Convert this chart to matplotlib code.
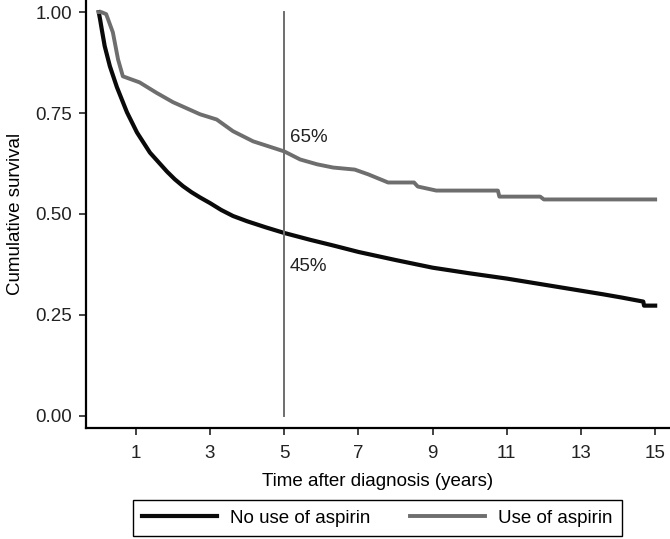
import numpy as np
import matplotlib
matplotlib.use('Agg')
import matplotlib.pyplot as plt

# Kaplan-Meier estimates (years, survival)
t_noasp = [0.0, 0.04, 0.08, 0.16, 0.3, 0.49, 0.76, 1.03, 1.38, 1.84, 2.05, 2.27, 2.5, 2.73,
           3.0, 3.3, 3.62, 4.0, 4.5, 5.0, 5.7, 6.32, 7.0, 8.0, 9.0, 10.0, 11.0,
           12.0, 13.0, 13.6, 14.1, 14.68, 14.7, 15.0]
s_noasp = [1.0, 0.98, 0.958, 0.916, 0.866, 0.814, 0.752, 0.702, 0.652, 0.605, 0.586, 0.569, 0.554, 0.541,
           0.527, 0.510, 0.495, 0.482, 0.467, 0.453, 0.436, 0.422, 0.406, 0.386, 0.367, 0.353, 0.340,
           0.325, 0.310, 0.301, 0.293, 0.283, 0.273, 0.273]

t_asp = [0.0, 0.07, 0.2, 0.38, 0.52, 0.65, 1.1, 1.56, 2.0, 2.73, 3.18, 3.62, 4.16, 5.0,
         5.43, 5.89, 6.32, 6.9, 7.27, 7.8, 8.5, 8.6, 9.1, 10.76, 10.8, 11.9, 12.0, 15.0]
s_asp = [1.0, 1.0, 0.995, 0.95, 0.883, 0.841, 0.826, 0.80, 0.777, 0.747, 0.734, 0.705, 0.68, 0.655,
         0.635, 0.623, 0.615, 0.61, 0.598, 0.578, 0.578, 0.568, 0.558, 0.558, 0.543, 0.543, 0.536, 0.536]

cutoff = 5
pct_labels = ['65%', '45%']
pct_y = [0.69, 0.37]

xticks = [1, 3, 5, 7, 9, 11, 13, 15]
yticks = [0.0, 0.25, 0.5, 0.75, 1.0]

plt.rcParams['font.family'] = ['Liberation Sans', 'DejaVu Sans']
fs = 13.5

fig = plt.figure(figsize=(6.7, 5.39), dpi=100)
ax = fig.add_axes([0.128, 0.206, 0.872, 0.794])

ax.plot(t_noasp, s_noasp, color='#0a0a0a', lw=3.0, label='No use of aspirin')
ax.plot(t_asp, s_asp, color='#6e6e6e', lw=2.8, label='Use of aspirin')
ax.plot([cutoff, cutoff], [0, 1], color='#6e6e6e', lw=1.4)

for lab, yv in zip(pct_labels, pct_y):
    ax.text(cutoff + 0.15, yv, lab, fontsize=fs, ha='left', va='center', color='#222222')

ax.set_xlim(-0.35, 15.4)
ax.set_ylim(-0.03, 1.03)
ax.set_xticks(xticks)
ax.set_yticks(yticks)
ax.set_yticklabels(['{:4.2f}'.format(v) for v in yticks])
ax.tick_params(labelsize=fs, length=5, width=1.2, colors='#222222')
ax.tick_params('x', pad=7)
ax.tick_params('y', pad=5)
for sp in ['top', 'right']:
    ax.spines[sp].set_visible(False)
for sp in ['left', 'bottom']:
    ax.spines[sp].set_linewidth(1.6)

ax.set_xlabel('Time after diagnosis (years)', fontsize=fs, labelpad=8)
ax.set_ylabel('Cumulative survival', fontsize=fs, labelpad=8)

fig.legend(loc='lower center', bbox_to_anchor=(0.563, 0.0), ncol=2, fontsize=fs,
           frameon=True, fancybox=False, edgecolor='black', handlelength=4.0,
           handletextpad=0.7, columnspacing=2.1, borderpad=0.5, borderaxespad=0.15,
           framealpha=1)

plt.savefig('out.png', dpi=100)
